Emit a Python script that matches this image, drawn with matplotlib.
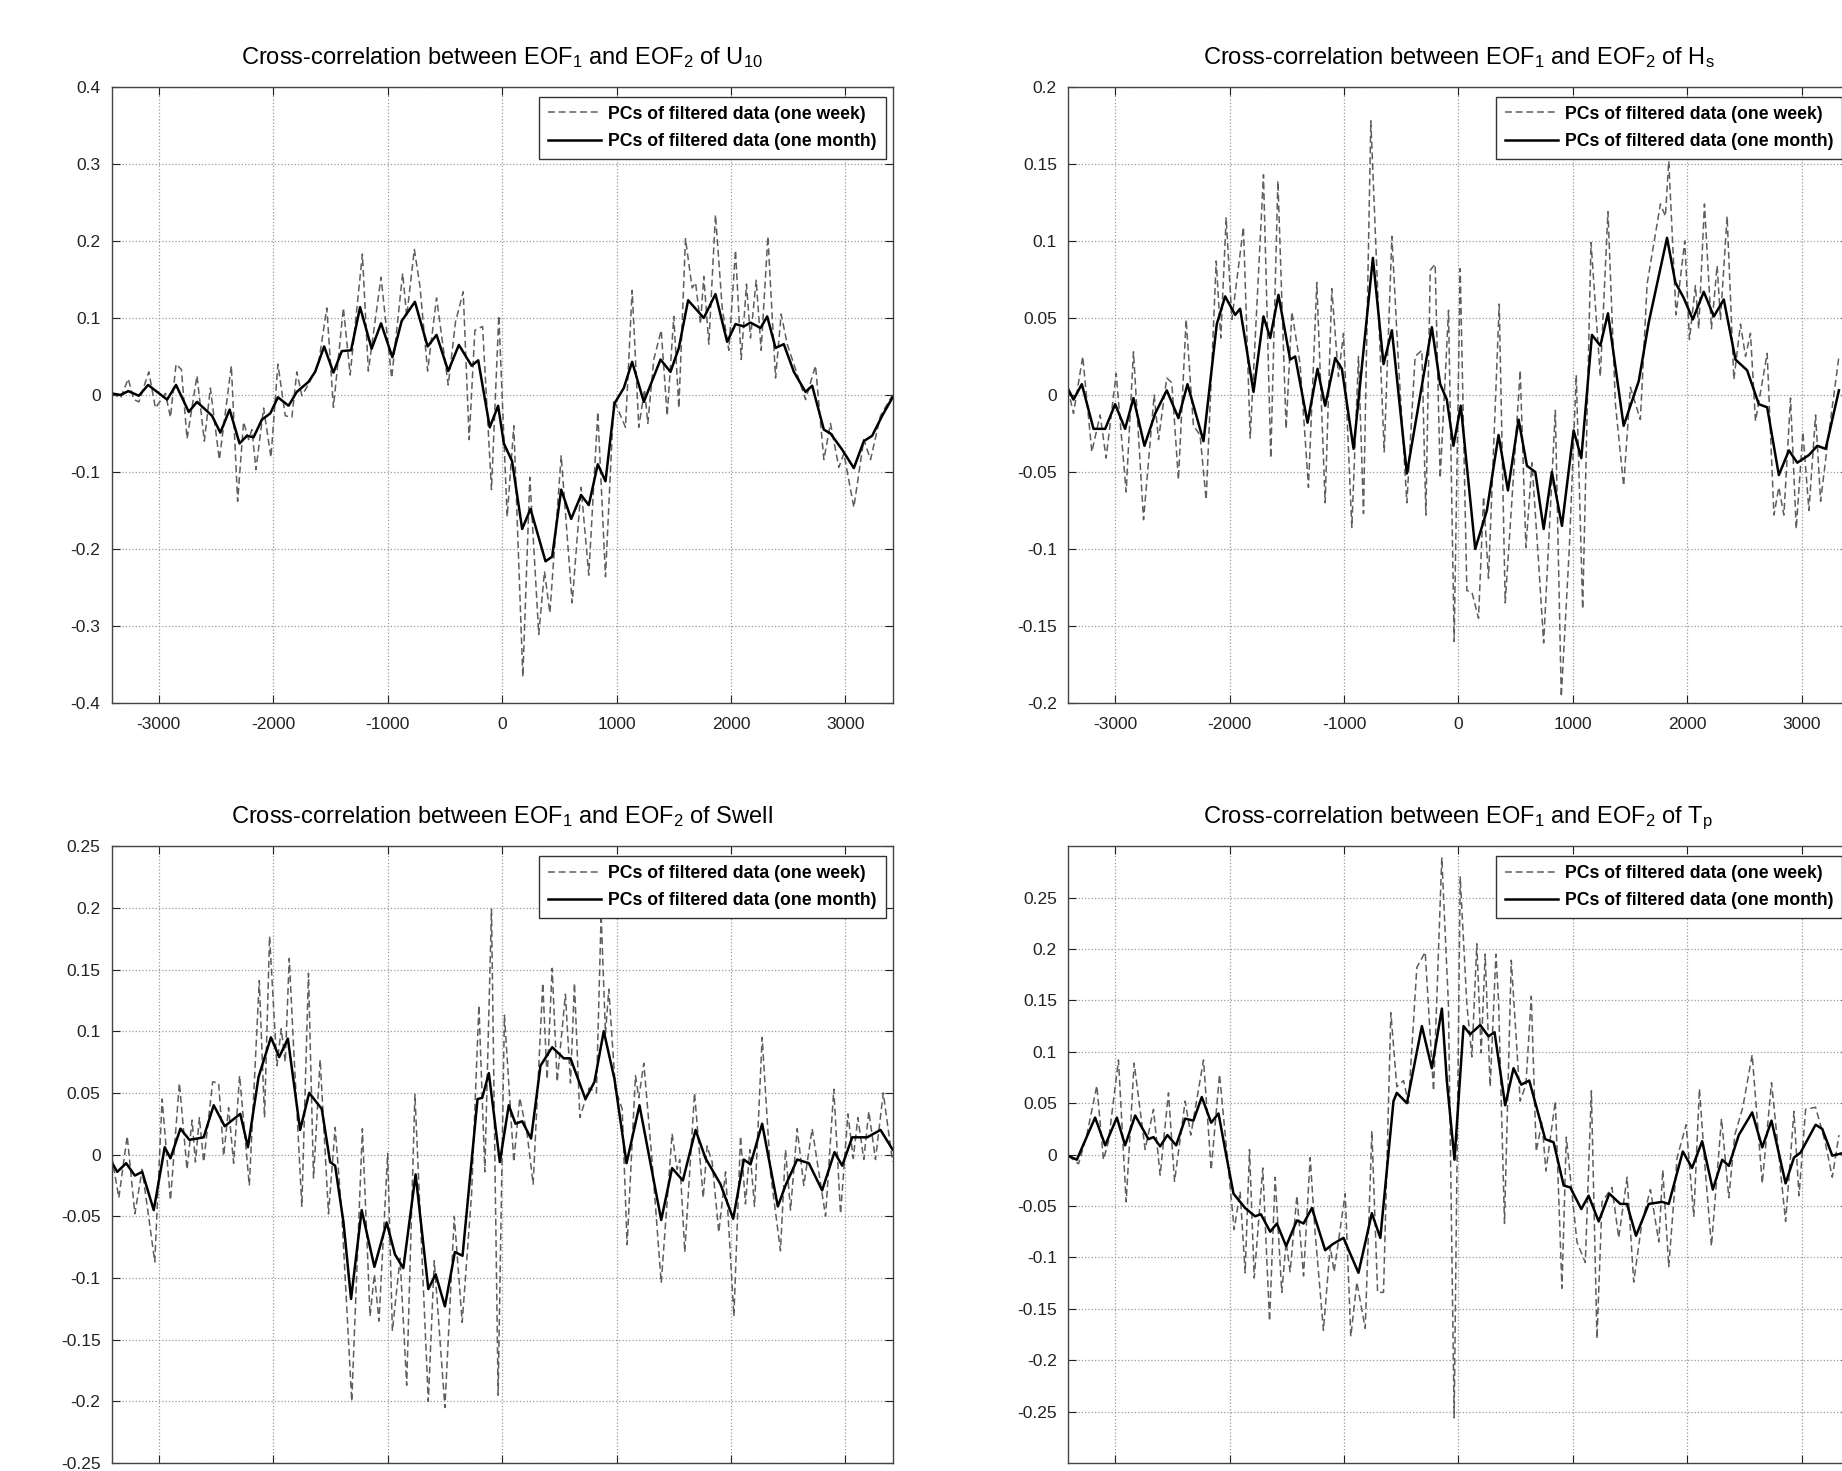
import matplotlib
matplotlib.use("Agg")
import matplotlib.pyplot as plt

plt.rcParams["font.family"] = ["Liberation Sans", "DejaVu Sans"]
plt.rcParams["mathtext.fontset"] = "custom"
plt.rcParams["mathtext.rm"] = "Liberation Sans"
plt.rcParams["mathtext.it"] = "Liberation Sans:italic"
plt.rcParams["mathtext.bf"] = "Liberation Sans:bold"

# ---- data (lag, correlation) ----
u10_week_lag = [-3412, -3334, -3267, -3218, -3174, -3087, -3029, -2942, -2898, -2849, -2802, -2753,
                -2666, -2602, -2549, -2471, -2366, -2311, -2259, -2215, -2186, -2151, -2084, -2020,
                -1959, -1895, -1837, -1794, -1750, -1692, -1605, -1532, -1474, -1387, -1328, -1221,
                -1169, -1058, -965, -869, -834, -767, -718, -651, -573, -471, -407, -340, -288, -238,
                -171, -93, -29, 44, 102, 181, 242, 320, 370, 417, 516, 612, 690, 757, 836, 903, 976,
                1078, 1136, 1194, 1244, 1273, 1325, 1390, 1442, 1500, 1544, 1602, 1660, 1690, 1733,
                1762, 1806, 1864, 1923, 1981, 2039, 2089, 2135, 2170, 2220, 2263, 2322, 2389, 2438,
                2491, 2651, 2738, 2811, 2869, 2942, 2986, 3073, 3160, 3219, 3306, 3412]
u10_week_r = [0.002, -0.004, 0.021, -0.006, -0.009, 0.030, -0.017, 0.002, -0.029, 0.040, 0.033, -0.057,
              0.025, -0.060, 0.009, -0.084, 0.038, -0.138, -0.035, -0.058, -0.045, -0.097, -0.017, -0.081,
              0.040, -0.027, -0.029, 0.030, -0.001, 0.014, 0.040, 0.113, -0.016, 0.113, 0.026, 0.183,
              0.031, 0.153, 0.022, 0.158, 0.102, 0.189, 0.141, 0.031, 0.126, 0.013, 0.095, 0.134, -0.058, 0.084,
              0.089, -0.123, 0.103, -0.158, -0.040, -0.366, -0.107, -0.311, -0.229, -0.283, -0.079, -0.270,
              -0.120, -0.234, -0.022, -0.236, -0.006, -0.042, 0.136, -0.042, 0.007, -0.037, 0.046, 0.084,
              -0.027, 0.102, -0.017, 0.203, 0.139, 0.146, 0.092, 0.154, 0.066, 0.234, 0.113, 0.058, 0.188,
              0.046, 0.144, 0.074, 0.149, 0.058, 0.206, 0.022, 0.105, 0.066, -0.006, 0.038, -0.084, -0.037,
              -0.094, -0.076, -0.146, -0.058, -0.084, -0.027, 0.000]
u10_month_lag = [-3412, -3334, -3267, -3174, -3093, -2927, -2849, -2738, -2666, -2593, -2535, -2462, -2381,
                 -2294, -2230, -2172, -2099, -2026, -1959, -1866, -1794, -1692, -1634, -1555, -1474, -1401,
                 -1320, -1241, -1140, -1058, -959, -878, -762, -651, -573, -471, -378, -267, -209, -108,
                 -35, 15, 87, 175, 248, 379, 437, 516, 603, 690, 757, 836, 903, 982, 1063, 1136, 1238,
                 1384, 1471, 1544, 1625, 1762, 1864, 1966, 2039, 2112, 2170, 2258, 2316, 2389, 2461, 2549,
                 2651, 2709, 2811, 2869, 2971, 3073, 3160, 3233, 3321, 3412]
u10_month_r = [0.002, 0.000, 0.005, -0.001, 0.013, -0.006, 0.013, -0.022, -0.009, -0.019, -0.027, -0.049,
               -0.019, -0.063, -0.053, -0.055, -0.032, -0.024, -0.003, -0.014, 0.004, 0.017, 0.030, 0.063,
               0.029, 0.057, 0.058, 0.114, 0.060, 0.093, 0.049, 0.096, 0.121, 0.063, 0.078, 0.031, 0.065,
               0.038, 0.045, -0.042, -0.014, -0.063, -0.086, -0.174, -0.148, -0.216, -0.210, -0.123, -0.161,
               -0.130, -0.143, -0.090, -0.112, -0.011, 0.009, 0.043, -0.009, 0.046, 0.030, 0.061, 0.123,
               0.100, 0.131, 0.069, 0.092, 0.089, 0.094, 0.087, 0.102, 0.061, 0.066, 0.030, 0.004, 0.012,
               -0.045, -0.050, -0.071, -0.095, -0.060, -0.053, -0.027, -0.003]

hs_week_lag = [-3412, -3364, -3283, -3204, -3131, -3079, -2991, -2904, -2840, -2752, -2659, -2621, -2549,
               -2505, -2447, -2380, -2316, -2258, -2205, -2117, -2077, -2030, -1980, -1879, -1820, -1704,
               -1640, -1578, -1506, -1456, -1384, -1311, -1238, -1165, -1107, -1049, -1005, -932, -874,
               -830, -766, -649, -582, -524, -451, -379, -320, -285, -247, -204, -160, -87, -38, 15, 73,
               117, 175, 219, 262, 356, 408, 467, 539, 589, 642, 700, 744, 802, 846, 898, 968, 1029, 1085,
               1158, 1239, 1306, 1371, 1443, 1502, 1589, 1648, 1764, 1808, 1837, 1901, 1977, 2018, 2070,
               2099, 2149, 2210, 2260, 2289, 2347, 2406, 2464, 2508, 2551, 2595, 2697, 2756, 2799, 2843,
               2901, 2951, 3009, 3062, 3120, 3164, 3237, 3324]
hs_week_r = [0.004, -0.012, 0.025, -0.037, -0.013, -0.041, 0.014, -0.063, 0.028, -0.081, 0.000, -0.029, 0.011,
             0.008, -0.055, 0.049, -0.020, -0.026, -0.068, 0.087, 0.037, 0.115, 0.049, 0.109, -0.028, 0.143,
             -0.041, 0.139, -0.022, 0.054, 0.020, -0.060, 0.073, -0.070, 0.069, 0.012, 0.040, -0.086, 0.025,
             -0.077, 0.178, -0.037, 0.103, 0.020, -0.070, 0.025, 0.029, -0.078, 0.081, 0.085, -0.054, 0.055,
             -0.160, 0.082, -0.127, -0.128, -0.145, -0.066, -0.119, 0.059, -0.135, -0.068, 0.016, -0.099,
             -0.044, -0.109, -0.161, -0.075, -0.010, -0.196, -0.100, 0.013, -0.139, 0.099, 0.012, 0.119,
             -0.006, -0.059, 0.005, -0.016, 0.072, 0.124, 0.116, 0.152, 0.052, 0.100, 0.036, 0.071, 0.043,
             0.124, 0.043, 0.084, 0.049, 0.116, 0.010, 0.046, 0.025, 0.040, -0.017, 0.027, -0.078, -0.060,
             -0.078, -0.002, -0.087, -0.024, -0.075, -0.013, -0.069, -0.024, 0.025]
hs_month_lag = [-3412, -3364, -3291, -3189, -3087, -3000, -2913, -2840, -2744, -2650, -2549, -2447, -2368,
                -2228, -2112, -2039, -1951, -1908, -1791, -1704, -1645, -1573, -1471, -1427, -1319, -1232,
                -1165, -1077, -1019, -917, -748, -655, -582, -451, -233, -160, -102, -44, 20, 146, 248, 350,
                432, 525, 598, 671, 744, 816, 904, 1006, 1073, 1166, 1239, 1306, 1443, 1575, 1662, 1822,
                1895, 1968, 2047, 2143, 2231, 2318, 2420, 2522, 2624, 2697, 2799, 2887, 2960, 3062, 3135,
                3208, 3324]
hs_month_r = [0.004, -0.003, 0.007, -0.022, -0.022, -0.006, -0.022, -0.002, -0.033, -0.012, 0.003, -0.015,
              0.007, -0.030, 0.046, 0.064, 0.052, 0.056, 0.002, 0.051, 0.037, 0.065, 0.023, 0.025, -0.018,
              0.017, -0.007, 0.024, 0.017, -0.035, 0.089, 0.020, 0.042, -0.051, 0.044, 0.007, -0.003, -0.033,
              -0.007, -0.100, -0.075, -0.026, -0.062, -0.016, -0.046, -0.050, -0.087, -0.050, -0.085, -0.023,
              -0.041, 0.039, 0.032, 0.053, -0.020, 0.009, 0.047, 0.102, 0.073, 0.063, 0.049, 0.067, 0.051,
              0.062, 0.023, 0.016, -0.006, -0.008, -0.052, -0.036, -0.044, -0.039, -0.033, -0.035, 0.003]

swell_week_lag = [-3412, -3349, -3276, -3209, -3145, -3035, -2971, -2898, -2820, -2753, -2709, -2680, -2645,
                  -2608, -2529, -2477, -2433, -2390, -2346, -2294, -2209, -2122, -2076, -2032, -1968, -1930,
                  -1895, -1860, -1823, -1750, -1692, -1648, -1590, -1517, -1459, -1401, -1314, -1221, -1154,
                  -1116, -1076, -1000, -959, -892, -834, -762, -645, -593, -500, -418, -349, -267, -203, -151,
                  -93, -35, 20, 102, 154, 218, 271, 355, 393, 437, 481, 553, 597, 632, 679, 760, 824, 865,
                  903, 932, 990, 1049, 1092, 1165, 1194, 1238, 1311, 1390, 1485, 1529, 1552, 1596, 1681, 1757,
                  1791, 1835, 1893, 1952, 2025, 2083, 2126, 2164, 2205, 2272, 2345, 2432, 2476, 2520, 2578,
                  2636, 2709, 2826, 2898, 2957, 3021, 3068, 3108, 3160, 3204, 3262, 3330, 3412]
swell_week_r = [-0.001, -0.035, 0.015, -0.048, -0.012, -0.087, 0.045, -0.037, 0.058, -0.012, 0.028, -0.006,
                0.030, -0.006, 0.059, 0.058, -0.001, 0.038, -0.007, 0.064, -0.025, 0.141, 0.030, 0.177, 0.072,
                0.102, 0.075, 0.159, 0.089, -0.042, 0.147, -0.019, 0.077, -0.048, 0.022, -0.048, -0.200, 0.021,
                -0.131, -0.097, -0.135, 0.001, -0.143, -0.084, -0.187, 0.049, -0.200, -0.086, -0.205, -0.050,
                -0.136, -0.032, 0.121, -0.014, 0.199, -0.195, 0.113, -0.006, 0.046, 0.017, -0.024, 0.139,
                0.061, 0.151, 0.059, 0.130, 0.058, 0.139, 0.030, 0.054, 0.050, 0.195, 0.098, 0.134, 0.053,
                0.037, -0.073, 0.064, 0.046, 0.074, -0.006, -0.104, 0.017, -0.012, -0.004, -0.079, 0.050,
                -0.035, 0.007, -0.006, -0.063, -0.014, -0.131, 0.015, -0.040, 0.004, -0.042, 0.095, -0.015,
                -0.078, 0.004, -0.045, 0.021, -0.025, 0.021, -0.050, 0.053, -0.048, 0.033, -0.003, 0.030,
                -0.004, 0.035, -0.004, 0.050, -0.006]
swell_month_lag = [-3412, -3363, -3285, -3209, -3145, -3044, -2948, -2898, -2811, -2733, -2666, -2608, -2520,
                   -2424, -2288, -2221, -2128, -2020, -1948, -1872, -1765, -1686, -1576, -1503, -1459, -1386,
                   -1320, -1227, -1116, -1009, -936, -863, -756, -645, -581, -500, -413, -346, -215, -174,
                   -116, -20, 58, 117, 175, 253, 335, 437, 539, 597, 728, 807, 888, 982, 1087, 1200, 1390,
                   1485, 1579, 1690, 1777, 1908, 2019, 2112, 2170, 2272, 2409, 2476, 2578, 2680, 2796, 2904,
                   2971, 3059, 3190, 3306, 3412]
swell_month_r = [-0.006, -0.014, -0.007, -0.017, -0.014, -0.045, 0.006, -0.003, 0.021, 0.012, 0.013, 0.014,
                 0.040, 0.023, 0.033, 0.006, 0.063, 0.095, 0.079, 0.094, 0.020, 0.050, 0.037, -0.006, -0.009,
                 -0.055, -0.117, -0.045, -0.091, -0.055, -0.081, -0.092, -0.016, -0.109, -0.097, -0.123,
                 -0.079, -0.082, 0.045, 0.046, 0.066, -0.006, 0.040, 0.025, 0.027, 0.013, 0.072, 0.087, 0.078,
                 0.078, 0.045, 0.059, 0.100, 0.061, -0.007, 0.040, -0.053, -0.011, -0.021, 0.020, -0.003,
                 -0.024, -0.052, -0.004, -0.008, 0.025, -0.042, -0.025, -0.004, -0.007, -0.029, 0.002, -0.009,
                 0.014, 0.014, 0.020, 0.004]

tp_week_lag = [-3412, -3320, -3248, -3160, -3102, -3058, -2971, -2904, -2834, -2738, -2665, -2607, -2534,
               -2481, -2388, -2339, -2228, -2161, -2088, -1960, -1908, -1864, -1826, -1785, -1710, -1651,
               -1602, -1544, -1506, -1471, -1412, -1354, -1296, -1252, -1180, -1121, -1087, -990, -941, -888,
               -815, -757, -707, -655, -591, -539, -480, -437, -364, -291, -218, -146, -88, -38, 15, 73, 117,
               160, 198, 233, 277, 327, 350, 402, 461, 539, 589, 636, 679, 729, 764, 846, 904, 942, 1035,
               1108, 1161, 1210, 1254, 1341, 1400, 1473, 1531, 1604, 1677, 1750, 1785, 1837, 1910, 1989,
               2056, 2105, 2158, 2210, 2298, 2362, 2414, 2484, 2566, 2654, 2735, 2858, 2931, 2975, 3033,
               3120, 3202, 3266, 3324]
tp_week_r = [-0.001, -0.009, 0.019, 0.067, -0.005, 0.013, 0.092, -0.046, 0.089, 0.005, 0.044, -0.020, 0.060,
             -0.026, 0.052, 0.019, 0.092, -0.015, 0.078, -0.073, -0.036, -0.115, 0.005, -0.120, -0.013,
             -0.162, -0.022, -0.134, -0.085, -0.114, -0.040, -0.118, -0.003, -0.077, -0.171, -0.089, -0.114,
             -0.038, -0.177, -0.124, -0.169, 0.023, -0.134, -0.134, 0.138, 0.066, 0.072, 0.050, 0.182, 0.197,
             0.062, 0.289, 0.146, -0.256, 0.270, 0.146, 0.095, 0.205, 0.099, 0.195, 0.066, 0.195, 0.150,
             -0.067, 0.189, 0.052, 0.068, 0.154, 0.003, 0.032, -0.016, 0.052, -0.130, 0.017, -0.085, -0.105,
             0.062, -0.179, -0.046, -0.032, -0.081, -0.022, -0.124, -0.065, -0.034, -0.085, -0.015, -0.109,
             -0.003, 0.029, -0.060, 0.064, -0.018, -0.089, 0.035, -0.042, 0.019, 0.046, 0.097, -0.028, 0.070,
             -0.065, 0.042, -0.040, 0.044, 0.046, 0.013, -0.022, 0.019]
tp_month_lag = [-3412, -3335, -3175, -3087, -2985, -2913, -2825, -2709, -2665, -2607, -2543, -2467, -2388,
                -2316, -2243, -2161, -2097, -2039, -1966, -1864, -1777, -1727, -1645, -1587, -1506, -1412,
                -1354, -1281, -1165, -1098, -1005, -874, -757, -683, -568, -539, -451, -320, -233, -145, -102,
                -35, 44, 102, 190, 262, 315, 408, 481, 548, 618, 758, 831, 919, 977, 1073, 1137, 1225, 1318,
                1414, 1472, 1551, 1662, 1779, 1837, 1960, 2041, 2129, 2222, 2304, 2362, 2449, 2566, 2654,
                2735, 2858, 2931, 2989, 3120, 3178, 3266, 3342]
tp_month_r = [-0.001, -0.005, 0.036, 0.009, 0.036, 0.009, 0.038, 0.015, 0.017, 0.008, 0.019, 0.009, 0.035,
              0.033, 0.056, 0.031, 0.040, 0.005, -0.038, -0.052, -0.060, -0.058, -0.075, -0.067, -0.089,
              -0.064, -0.067, -0.052, -0.093, -0.087, -0.081, -0.115, -0.057, -0.081, 0.052, 0.060, 0.050,
              0.125, 0.084, 0.142, 0.072, -0.005, 0.125, 0.117, 0.126, 0.115, 0.119, 0.048, 0.084, 0.068,
              0.072, 0.015, 0.012, -0.030, -0.032, -0.053, -0.040, -0.065, -0.038, -0.048, -0.048, -0.079,
              -0.048, -0.046, -0.048, 0.003, -0.013, 0.013, -0.034, -0.005, -0.011, 0.019, 0.041, 0.007,
              0.033, -0.028, -0.003, 0.002, 0.029, 0.025, -0.001, 0.001]

x_ticks = [-3000, -2000, -1000, 0, 1000, 2000, 3000]
x_labels = ["-3000", "-2000", "-1000", "0", "1000", "2000", "3000"]

u10_yticks = [-0.4, -0.3, -0.2, -0.1, 0, 0.1, 0.2, 0.3, 0.4]
u10_ylabels = ["-0.4", "-0.3", "-0.2", "-0.1", "0", "0.1", "0.2", "0.3", "0.4"]
hs_yticks = [-0.2, -0.15, -0.1, -0.05, 0, 0.05, 0.1, 0.15, 0.2]
hs_ylabels = ["-0.2", "-0.15", "-0.1", "-0.05", "0", "0.05", "0.1", "0.15", "0.2"]
swell_yticks = [-0.25, -0.2, -0.15, -0.1, -0.05, 0, 0.05, 0.1, 0.15, 0.2, 0.25]
swell_ylabels = ["-0.25", "-0.2", "-0.15", "-0.1", "-0.05", "0", "0.05", "0.1", "0.15", "0.2", "0.25"]
tp_yticks = [-0.25, -0.2, -0.15, -0.1, -0.05, 0, 0.05, 0.1, 0.15, 0.2, 0.25]
tp_ylabels = ["-0.25", "-0.2", "-0.15", "-0.1", "-0.05", "0", "0.05", "0.1", "0.15", "0.2", "0.25"]

titles = [
    r"Cross-correlation between EOF$_1$ and EOF$_2$ of U$_{10}$",
    r"Cross-correlation between EOF$_1$ and EOF$_2$ of H$_\mathrm{s}$",
    r"Cross-correlation between EOF$_1$ and EOF$_2$ of Swell",
    r"Cross-correlation between EOF$_1$ and EOF$_2$ of T$_\mathrm{p}$",
]
legend_labels = ["PCs of filtered data (one week)", "PCs of filtered data (one month)"]

XLIM = (-3412, 3412)


def draw_panel(ax, week, month, title, yticks, ylabels, ylim, show_xlabels=True):
    ax.plot(week[0], week[1], color="#5e5e5e", lw=1.1, ls=(0, (4.5, 2.5)), label=legend_labels[0])
    ax.plot(month[0], month[1], color="black", lw=1.8, label=legend_labels[1])
    ax.set_xlim(*XLIM)
    ax.set_ylim(*ylim)
    ax.set_xticks(x_ticks)
    ax.set_xticklabels(x_labels)
    ax.set_yticks(yticks)
    ax.set_yticklabels(ylabels)
    ax.grid(True, color="#9a9a9a", ls=":", lw=0.9)
    ax.tick_params(direction="in", top=True, right=True, length=6, width=0.8,
                   labelsize=12.5, colors="#222222")
    ax.tick_params(axis="y", pad=8)
    ax.tick_params(axis="x", pad=10, labelbottom=show_xlabels)
    for s in ax.spines.values():
        s.set_color("#444444")
        s.set_linewidth(1.0)
    ax.set_title(title, fontsize=17, pad=16.5)
    leg = ax.legend(loc="upper right", bbox_to_anchor=(0.991, 0.984), borderaxespad=0,
                    prop={"size": 12.7, "weight": "bold"}, handlelength=3.0, handletextpad=0.4,
                    borderpad=0.5, labelspacing=0.6, fancybox=False, framealpha=1)
    leg.get_frame().set_edgecolor("#333333")
    leg.get_frame().set_linewidth(1.0)


fig = plt.figure(figsize=(18.42, 14.71), dpi=100)
ax1 = fig.add_axes([0.0606, 0.5221, 0.4240, 0.4188])
ax2 = fig.add_axes([0.5798, 0.5221, 0.4240, 0.4188])
ax3 = fig.add_axes([0.0606, 0.0054, 0.4240, 0.4194])
ax4 = fig.add_axes([0.5798, 0.0054, 0.4240, 0.4194])

draw_panel(ax1, (u10_week_lag, u10_week_r), (u10_month_lag, u10_month_r), titles[0],
           u10_yticks, u10_ylabels, (-0.4, 0.4))
draw_panel(ax2, (hs_week_lag, hs_week_r), (hs_month_lag, hs_month_r), titles[1],
           hs_yticks, hs_ylabels, (-0.2, 0.2))
# bottom row: the x tick labels fall below the cropped figure edge
draw_panel(ax3, (swell_week_lag, swell_week_r), (swell_month_lag, swell_month_r), titles[2],
           swell_yticks, swell_ylabels, (-0.25, 0.25), show_xlabels=False)
draw_panel(ax4, (tp_week_lag, tp_week_r), (tp_month_lag, tp_month_r), titles[3],
           tp_yticks, tp_ylabels, (-0.3, 0.3), show_xlabels=False)

fig.savefig("out.png", dpi=100)
